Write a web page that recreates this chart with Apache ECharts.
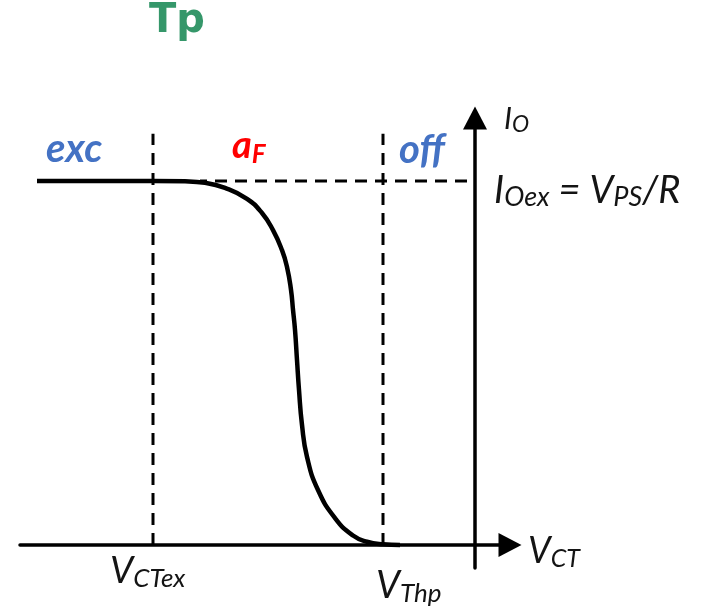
<!DOCTYPE html>
<html>
<head>
<meta charset="utf-8">
<script src="https://cdn.jsdelivr.net/npm/echarts@6/dist/echarts.min.js"></script>
<style>
  html, body { margin: 0; padding: 0; background: #fff; }
  #chart { width: 701px; height: 614px; }
</style>
</head>
<body>
<div id="chart"></div>
<script>
// Transfer characteristic I_O(V_CT): V_CT in units of 100 px-equivalents, I_O normalised to I_Oex
const curveX = [-4.38, -3.22, -2.90, -2.70, -2.50, -2.28, -2.13, -2.02, -1.93, -1.88, -1.84,
                -1.82, -1.80, -1.78, -1.76, -1.73, -1.68, -1.57, -1.40, -1.22, -1.08, -0.92, -0.75];
const curveY = [1.000, 1.000, 0.999, 0.995, 0.981, 0.951, 0.912, 0.865, 0.810, 0.764, 0.701,
                0.646, 0.591, 0.508, 0.426, 0.330, 0.242, 0.151, 0.074, 0.026, 0.009, 0.002, 0.000];

// Marked levels on the axes
const vCTex = -3.22;      // end of the excitation region
const vThp = -0.92;       // threshold voltage
const iOex = 1.0;         // saturation current I_Oex
const guideTop = 1.13;    // how high the vertical guides reach
const levelStart = -2.75; // where the I_Oex guide begins
const levelEnd = -0.08;   // where the I_Oex guide stops, short of the I_O axis

// Axis extents
const xRange = [-4.55, 0.35];
const yRange = [-0.0632, 1.173];

const chart = echarts.init(document.getElementById('chart'), null, { renderer: 'canvas' });

const FONT = 'Lato';
const K_LATO = 0.387; // distance from the text middle to the baseline, in em

// Italic symbol with a subscript, placed by its left edge and baseline
function symbolText(parts, left, baseline, fm, fs, L, color, weight) {
  return {
    type: 'text',
    left: left,
    top: baseline - K_LATO * fm - L / 2,
    silent: true,
    style: {
      text: parts,
      fill: color,
      font: (weight || 'normal') + ' italic ' + fm + 'px ' + FONT,
      rich: {
        m: { fontFamily: FONT, fontStyle: 'italic', fontWeight: weight || 'normal', fontSize: fm, lineHeight: L, fill: color },
        s: { fontFamily: FONT, fontStyle: 'italic', fontWeight: weight || 'normal', fontSize: fs, lineHeight: fs, verticalAlign: 'bottom', fill: color }
      }
    }
  };
}

const ink = '#141414';
const guideStyle = { color: '#000', width: 3, type: [12, 8] };

const option = {
  backgroundColor: '#fff',
  animation: false,
  grid: { left: 20, right: 191, top: 118, bottom: 46 },
  xAxis: {
    type: 'value',
    min: xRange[0], max: xRange[1],
    axisLine: { onZero: true, symbol: ['none', 'triangle'], symbolSize: [24, 23],
                lineStyle: { color: '#000', width: 3.5 } },
    axisTick: { show: false }, axisLabel: { show: false }, splitLine: { show: false }
  },
  yAxis: {
    type: 'value',
    min: yRange[0], max: yRange[1],
    axisLine: { onZero: true, symbol: ['none', 'triangle'], symbolSize: [24, 23],
                lineStyle: { color: '#000', width: 3.5 } },
    axisTick: { show: false }, axisLabel: { show: false }, splitLine: { show: false }
  },
  series: [
    {
      name: 'V_CTex guide', type: 'line', silent: true, symbol: 'none',
      data: [[vCTex, 0], [vCTex, guideTop]], lineStyle: guideStyle, z: 2
    },
    {
      name: 'V_Thp guide', type: 'line', silent: true, symbol: 'none',
      data: [[vThp, 0], [vThp, guideTop]], lineStyle: guideStyle, z: 2
    },
    {
      name: 'I_Oex guide', type: 'line', silent: true, symbol: 'none',
      data: [[levelEnd, iOex], [levelStart, iOex]], lineStyle: guideStyle, z: 2
    },
    {
      name: 'I_O', type: 'line', silent: true, symbol: 'none',
      smooth: 0.5,
      data: curveX.map((x, i) => [x, curveY[i]]),
      lineStyle: { color: '#000', width: 4.5 }, z: 3
    }
  ],
  graphic: [
    {
      type: 'text', x: 177, y: 22, silent: true,
      style: { text: 'Tp', fill: '#35976a', font: 'bold 40px "DejaVu Sans"', align: 'center', verticalAlign: 'middle' }
    },
    symbolText('{m|exc}', 46, 165, 40, 20, 40, '#4472c4', 'bold'),
    symbolText('{m|a}{s|F}', 232, 163, 38, 26, 44, '#ff0000', 'bold'),
    symbolText('{m|off}', 399, 166, 40, 20, 40, '#4472c4', 'bold'),
    symbolText('{m|I}{s|O}', 504, 133, 30, 23, 35, ink),
    symbolText('{m|I}{s|Oex}{m| = V}{s|PS}{m|/R}', 494, 207, 38, 27, 42, ink),
    symbolText('{m|V}{s|CT}', 528, 567, 36, 25, 40, ink),
    symbolText('{m|V}{s|CTex}', 110, 587, 37, 26, 40, ink),
    symbolText('{m|V}{s|Thp}', 376, 602, 38, 26, 42, ink)
  ]
};

chart.setOption(option);
</script>
</body>
</html>
